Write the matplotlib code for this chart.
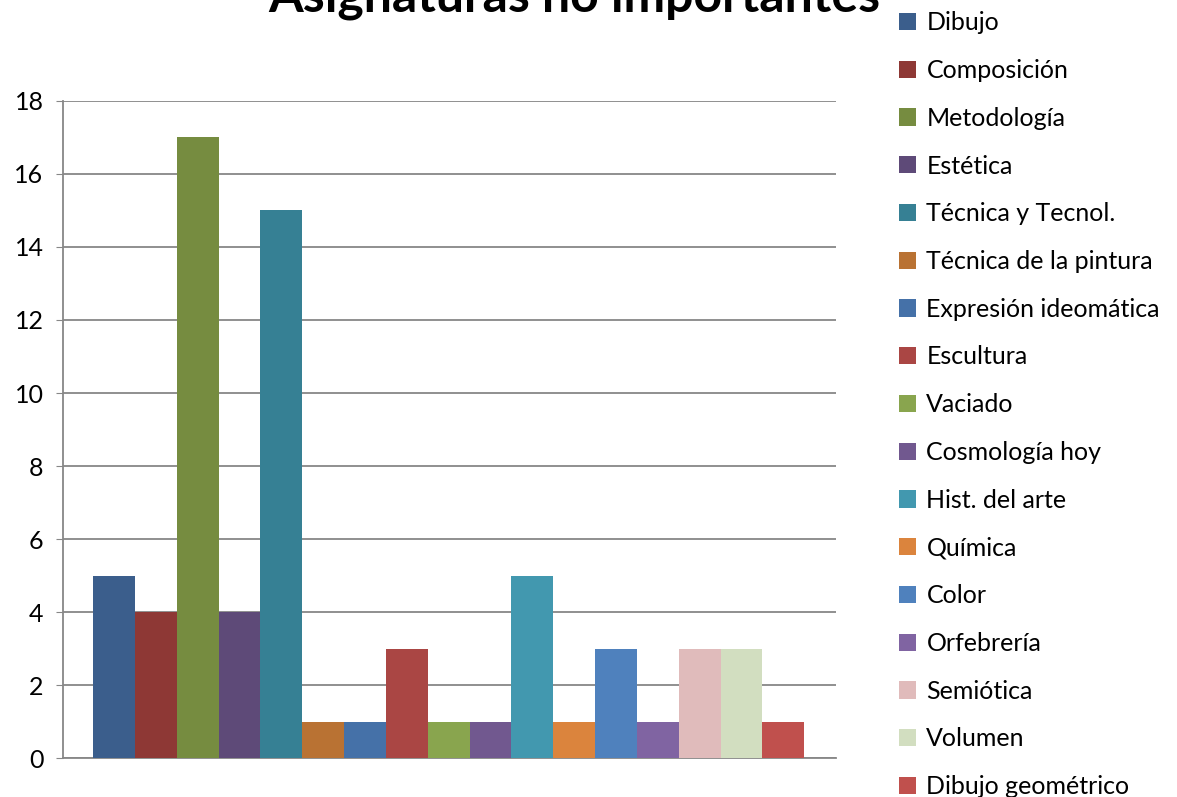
import matplotlib
matplotlib.use('Agg')
import matplotlib.pyplot as plt

plt.rcParams['font.family'] = ['Lato', 'DejaVu Sans']

title = 'Asignaturas no importantes'
subjects = ['Dibujo', 'Composición', 'Metodología', 'Estética', 'Técnica y Tecnol.',
            'Técnica de la pintura', 'Expresión ideomática', 'Escultura', 'Vaciado',
            'Cosmología hoy', 'Hist. del arte', 'Química', 'Color', 'Orfebrería',
            'Semiótica', 'Volumen', 'Dibujo geométrico']
counts = [5, 4, 17, 4, 15, 1, 1, 3, 1, 1, 5, 1, 3, 1, 3, 3, 1]
colors = ['#3B5E8C', '#8E3835', '#768C40', '#5E4A78', '#368094', '#B97233',
          '#4571A8', '#AA4644', '#89A54E', '#71588F', '#4298AF', '#DB843D',
          '#4F81BD', '#8064A2', '#E0BBBB', '#D2DEC0', '#C0504D']
yticks = [0, 2, 4, 6, 8, 10, 12, 14, 16, 18]

fig = plt.figure(figsize=(11.77, 7.97), dpi=100)
ax = fig.add_axes([0.0535, 0.0489, 0.6568, 0.8244])

handles = []
for i, (name, v, c) in enumerate(zip(subjects, counts, colors)):
    b = ax.bar(i, v, width=1.0, color=c, label=name, zorder=3)
    handles.append(b)

ax.set_xlim(-1.22, 17.26)
ax.set_ylim(0, 18)
ax.set_yticks(yticks)
ax.set_xticks([])
ax.yaxis.grid(True, color='#878787', linewidth=1.3, zorder=0)
for s in ['top', 'right']:
    ax.spines[s].set_visible(False)
for s in ['left', 'bottom']:
    ax.spines[s].set_color('#878787')
    ax.spines[s].set_linewidth(1.3)
ax.tick_params(axis='y', length=5, color='#878787', labelsize=18, pad=9)

# the title sits partly above the top edge, as in the original
fig.text(0.488, 1.0 - 12 / 797, title, ha='center', va='baseline',
         fontsize=36, fontweight='bold')

fig.legend(handles=handles, loc='upper left', bbox_to_anchor=(0.7546, 1.0),
           frameon=False, fontsize=18, handlelength=0.68, handleheight=0.68,
           handletextpad=0.4, labelspacing=0.99, borderaxespad=0.05)

fig.savefig('out.png', dpi=100)
